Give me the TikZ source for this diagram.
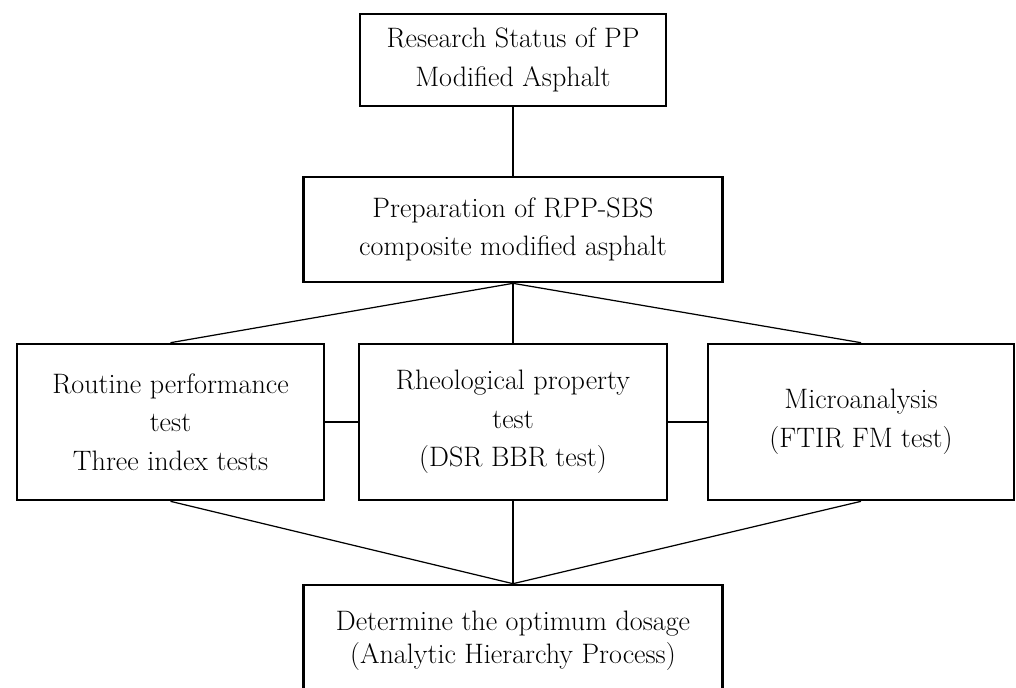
\documentclass[tikz,border=0pt]{standalone}
\tikzstyle{stage}=[draw, line width=1.5pt, align=center, inner sep=0pt, font=\fontsize{16}{22}\selectfont]
\tikzstyle{link}=[line width=0.7pt]

\begin{document}
\begin{tikzpicture}[x=0.02cm, y=-0.02cm]
      \useasboundingbox (0, 0) rectangle (1016, 687);
      \node[stage, minimum width=306*0.02cm, minimum height=92*0.02cm] (status) at (513, 60) {Research Status of PP\\Modified Asphalt};
      \node[stage, minimum width=419*0.02cm, minimum height=105*0.02cm] (prep) at (513, 229.5) {Preparation of RPP-SBS\\composite modified asphalt};
      \node[stage, minimum width=307*0.02cm, minimum height=156*0.02cm] (routine) at (170.5, 422) {Routine performance\\test\\Three index tests};
      \node[stage, minimum width=308*0.02cm, minimum height=156*0.02cm] (rheo) at (513, 422) {Rheological property\\test\\(DSR BBR test)};
      \node[stage, minimum width=306*0.02cm, minimum height=156*0.02cm] (micro) at (861, 422) {Microanalysis\\(FTIR FM test)};
      \node[stage, minimum width=419*0.02cm, minimum height=112*0.02cm, font=\fontsize{16}{19}\selectfont] (dosage) at (513, 641) {Determine the optimum dosage\\(Analytic Hierarchy Process)};
      \draw[link] (status) -- (prep);
      \draw[link] (prep.south) -- (routine.north);
      \draw[link] (prep.south) -- (rheo.north);
      \draw[link] (prep.south) -- (micro.north);
      \draw[link] (routine) -- (rheo);
      \draw[link] (rheo) -- (micro);
      \draw[link] (routine.south) -- (dosage.north);
      \draw[link] (rheo.south) -- (dosage.north);
      \draw[link] (micro.south) -- (dosage.north);
    \end{tikzpicture}
\end{document}
